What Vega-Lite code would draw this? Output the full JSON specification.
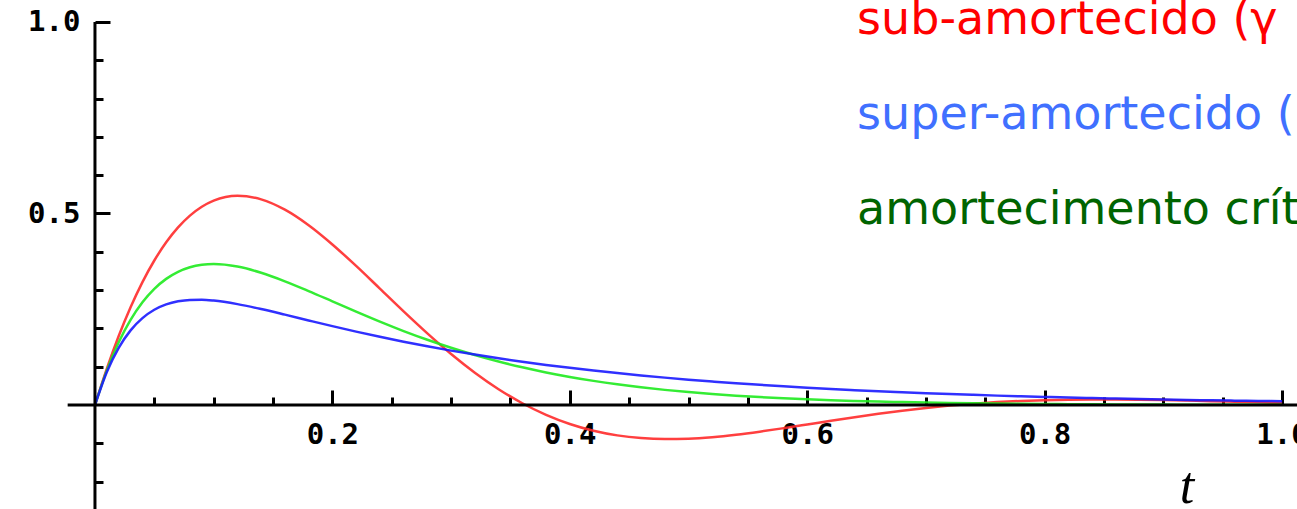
{
  "$schema": "https://vega.github.io/schema/vega-lite/v6.json",
  "width": 1297,
  "height": 509,
  "autosize": "none",
  "padding": 0,
  "background": "white",
  "config": {"view": {"stroke": null}},
  "datasets": {
    "curves": [
      {"t":0,"s":"sub","v":0},{"t":0.01,"s":"sub","v":0.0950},{"t":0.02,"s":"sub","v":0.1801},{"t":0.03,"s":"sub","v":0.2553},{"t":0.04,"s":"sub","v":0.3210},{"t":0.05,"s":"sub","v":0.3773},{"t":0.06,"s":"sub","v":0.4247},{"t":0.07,"s":"sub","v":0.4636},{"t":0.08,"s":"sub","v":0.4943},{"t":0.09,"s":"sub","v":0.5175},{"t":0.10,"s":"sub","v":0.5335},{"t":0.12,"s":"sub","v":0.5462},{"t":0.14,"s":"sub","v":0.5370},{"t":0.16,"s":"sub","v":0.5100},{"t":0.18,"s":"sub","v":0.4694},{"t":0.20,"s":"sub","v":0.4192},{"t":0.22,"s":"sub","v":0.3631},{"t":0.24,"s":"sub","v":0.3039},{"t":0.26,"s":"sub","v":0.2445},{"t":0.28,"s":"sub","v":0.1871},{"t":0.30,"s":"sub","v":0.1333},{"t":0.32,"s":"sub","v":0.0844},{"t":0.34,"s":"sub","v":0.0413},{"t":0.36,"s":"sub","v":0.0046},{"t":0.38,"s":"sub","v":-0.0257},{"t":0.40,"s":"sub","v":-0.0495},{"t":0.42,"s":"sub","v":-0.0672},{"t":0.44,"s":"sub","v":-0.0793},{"t":0.46,"s":"sub","v":-0.0864},{"t":0.48,"s":"sub","v":-0.0890},{"t":0.50,"s":"sub","v":-0.0879},{"t":0.52,"s":"sub","v":-0.0839},{"t":0.54,"s":"sub","v":-0.0776},{"t":0.56,"s":"sub","v":-0.0696},{"t":0.58,"s":"sub","v":-0.0605},{"t":0.60,"s":"sub","v":-0.0509},{"t":0.62,"s":"sub","v":-0.0412},{"t":0.64,"s":"sub","v":-0.0318},{"t":0.66,"s":"sub","v":-0.0229},{"t":0.68,"s":"sub","v":-0.0148},{"t":0.70,"s":"sub","v":-0.0077},{"t":0.72,"s":"sub","v":-0.0015},{"t":0.74,"s":"sub","v":0.0036},{"t":0.76,"s":"sub","v":0.0076},{"t":0.78,"s":"sub","v":0.0106},{"t":0.80,"s":"sub","v":0.0127},{"t":0.82,"s":"sub","v":0.0140},{"t":0.84,"s":"sub","v":0.0145},{"t":0.86,"s":"sub","v":0.0144},{"t":0.88,"s":"sub","v":0.0138},{"t":0.90,"s":"sub","v":0.0128},{"t":0.92,"s":"sub","v":0.0115},{"t":0.94,"s":"sub","v":0.0101},{"t":0.96,"s":"sub","v":0.0085},{"t":0.98,"s":"sub","v":0.0069},{"t":1.00,"s":"sub","v":0.0054},
      {"t":0,"s":"crit","v":0},{"t":0.01,"s":"crit","v":0.0905},{"t":0.02,"s":"crit","v":0.1638},{"t":0.03,"s":"crit","v":0.2222},{"t":0.04,"s":"crit","v":0.2681},{"t":0.05,"s":"crit","v":0.3033},{"t":0.06,"s":"crit","v":0.3293},{"t":0.07,"s":"crit","v":0.3476},{"t":0.08,"s":"crit","v":0.3595},{"t":0.09,"s":"crit","v":0.3659},{"t":0.10,"s":"crit","v":0.3679},{"t":0.12,"s":"crit","v":0.3614},{"t":0.14,"s":"crit","v":0.3452},{"t":0.16,"s":"crit","v":0.3230},{"t":0.18,"s":"crit","v":0.2975},{"t":0.20,"s":"crit","v":0.2707},{"t":0.22,"s":"crit","v":0.2438},{"t":0.24,"s":"crit","v":0.2177},{"t":0.26,"s":"crit","v":0.1931},{"t":0.28,"s":"crit","v":0.1703},{"t":0.30,"s":"crit","v":0.1494},{"t":0.32,"s":"crit","v":0.1304},{"t":0.34,"s":"crit","v":0.1135},{"t":0.36,"s":"crit","v":0.0984},{"t":0.38,"s":"crit","v":0.0850},{"t":0.40,"s":"crit","v":0.0733},{"t":0.42,"s":"crit","v":0.0630},{"t":0.44,"s":"crit","v":0.0540},{"t":0.46,"s":"crit","v":0.0462},{"t":0.48,"s":"crit","v":0.0395},{"t":0.50,"s":"crit","v":0.0337},{"t":0.52,"s":"crit","v":0.0287},{"t":0.54,"s":"crit","v":0.0244},{"t":0.56,"s":"crit","v":0.0207},{"t":0.58,"s":"crit","v":0.0176},{"t":0.60,"s":"crit","v":0.0149},{"t":0.62,"s":"crit","v":0.0126},{"t":0.64,"s":"crit","v":0.0106},{"t":0.66,"s":"crit","v":0.0090},{"t":0.68,"s":"crit","v":0.0076},{"t":0.70,"s":"crit","v":0.0064},{"t":0.72,"s":"crit","v":0.0054},{"t":0.74,"s":"crit","v":0.0045},{"t":0.76,"s":"crit","v":0.0038},{"t":0.78,"s":"crit","v":0.0032},{"t":0.80,"s":"crit","v":0.0027},{"t":0.82,"s":"crit","v":0.0023},{"t":0.84,"s":"crit","v":0.0019},{"t":0.86,"s":"crit","v":0.0016},{"t":0.88,"s":"crit","v":0.0013},{"t":0.90,"s":"crit","v":0.0011},{"t":0.92,"s":"crit","v":0.0009},{"t":0.94,"s":"crit","v":0.0008},{"t":0.96,"s":"crit","v":0.0007},{"t":0.98,"s":"crit","v":0.0005},{"t":1.00,"s":"crit","v":0.0005},
      {"t":0,"s":"super","v":0},{"t":0.01,"s":"super","v":0.0863},{"t":0.02,"s":"super","v":0.1494},{"t":0.03,"s":"super","v":0.1949},{"t":0.04,"s":"super","v":0.2269},{"t":0.05,"s":"super","v":0.2487},{"t":0.06,"s":"super","v":0.2626},{"t":0.07,"s":"super","v":0.2707},{"t":0.08,"s":"super","v":0.2744},{"t":0.09,"s":"super","v":0.2747},{"t":0.10,"s":"super","v":0.2726},{"t":0.12,"s":"super","v":0.2634},{"t":0.14,"s":"super","v":0.2505},{"t":0.16,"s":"super","v":0.2359},{"t":0.18,"s":"super","v":0.2208},{"t":0.20,"s":"super","v":0.2059},{"t":0.22,"s":"super","v":0.1916},{"t":0.24,"s":"super","v":0.1780},{"t":0.26,"s":"super","v":0.1651},{"t":0.28,"s":"super","v":0.1532},{"t":0.30,"s":"super","v":0.1420},{"t":0.32,"s":"super","v":0.1316},{"t":0.34,"s":"super","v":0.1220},{"t":0.36,"s":"super","v":0.1130},{"t":0.38,"s":"super","v":0.1047},{"t":0.40,"s":"super","v":0.0970},{"t":0.42,"s":"super","v":0.0899},{"t":0.44,"s":"super","v":0.0833},{"t":0.46,"s":"super","v":0.0772},{"t":0.48,"s":"super","v":0.0715},{"t":0.50,"s":"super","v":0.0662},{"t":0.52,"s":"super","v":0.0614},{"t":0.54,"s":"super","v":0.0568},{"t":0.56,"s":"super","v":0.0527},{"t":0.58,"s":"super","v":0.0488},{"t":0.60,"s":"super","v":0.0452},{"t":0.62,"s":"super","v":0.0419},{"t":0.64,"s":"super","v":0.0388},{"t":0.66,"s":"super","v":0.0359},{"t":0.68,"s":"super","v":0.0333},{"t":0.70,"s":"super","v":0.0309},{"t":0.72,"s":"super","v":0.0286},{"t":0.74,"s":"super","v":0.0265},{"t":0.76,"s":"super","v":0.0245},{"t":0.78,"s":"super","v":0.0227},{"t":0.80,"s":"super","v":0.0211},{"t":0.82,"s":"super","v":0.0195},{"t":0.84,"s":"super","v":0.0181},{"t":0.86,"s":"super","v":0.0167},{"t":0.88,"s":"super","v":0.0155},{"t":0.90,"s":"super","v":0.0144},{"t":0.92,"s":"super","v":0.0133},{"t":0.94,"s":"super","v":0.0123},{"t":0.96,"s":"super","v":0.0114},{"t":0.98,"s":"super","v":0.0106},{"t":1.00,"s":"super","v":0.0098}
    ],
    "axislines": [
      {"x":0,"x2":0,"y":-0.2715,"y2":1.0},
      {"x":-0.023,"x2":1.0126,"y":0,"y2":0}
    ],
    "labels": [
      {"x":0.642,"y":0.9687,"txt":"sub-amortecido (γ","s":"sub"},
      {"x":0.642,"y":0.7206,"txt":"super-amortecido (","s":"super"},
      {"x":0.642,"y":0.4726,"txt":"amortecimento crít","s":"crit"}
    ],
    "title": [
      {"x":0.92,"y":-0.2560,"txt":"t"}
    ]
  },
  "resolve": {"scale": {"color": "independent"}},
  "layer": [
    {
      "data": {"name": "curves"},
      "mark": {"type": "line", "interpolate": "monotone", "strokeWidth": 2.5, "opacity": 0.9},
      "encoding": {
        "x": {
          "field": "t", "type": "quantitative", "title": null,
          "scale": {"domain": [-0.08, 1.0126], "nice": false, "zero": false},
          "axis": {
            "orient": "bottom", "offset": -104, "domain": false, "grid": false, "title": null,
            "values": [0.05, 0.1, 0.15, 0.2, 0.25, 0.3, 0.35, 0.4, 0.45, 0.5, 0.55, 0.6, 0.65, 0.7, 0.75, 0.8, 0.85, 0.9, 0.95, 1.0],
            "tickSize": {"condition": {"test": "datum.value == 0.2 || datum.value == 0.4 || datum.value == 0.6 || datum.value == 0.8 || datum.value == 1", "value": -15}, "value": -8},
            "tickWidth": 3, "tickColor": "black",
            "labelExpr": "(datum.value == 0.2 || datum.value == 0.4 || datum.value == 0.6 || datum.value == 0.8 || datum.value == 1) ? format(datum.value, '.1f') : ''",
            "labelFont": "DejaVu Sans Mono", "labelFontSize": 29, "labelFontWeight": "bold", "labelColor": "black",
            "labelPadding": 30, "labelFlush": false, "labelOverlap": false, "labelBound": false, "labelBaseline": "top"
          }
        },
        "y": {
          "field": "v", "type": "quantitative", "title": null,
          "scale": {"domain": [-0.2715, 1.0574], "nice": false, "zero": false},
          "axis": {
            "orient": "left", "offset": -95, "domain": false, "grid": false, "title": null,
            "values": [-0.2, -0.1, 0.1, 0.2, 0.3, 0.4, 0.5, 0.6, 0.7, 0.8, 0.9, 1.0],
            "tickSize": {"condition": {"test": "datum.value == 0.5 || datum.value == 1", "value": -15}, "value": -8},
            "tickWidth": 3, "tickColor": "black",
            "labelExpr": "(datum.value == 0.5 || datum.value == 1) ? format(datum.value, '.1f') : ''",
            "labelFont": "DejaVu Sans Mono", "labelFontSize": 29, "labelFontWeight": "bold", "labelColor": "black",
            "labelPadding": 30, "labelFlush": false, "labelOverlap": false, "labelBound": false, "labelBaseline": "middle"
          }
        },
        "color": {
          "field": "s", "type": "nominal",
          "scale": {"domain": ["sub", "crit", "super"], "range": ["#ff2a2a", "#1eea1e", "#1a1aff"]},
          "legend": null
        }
      }
    },
    {
      "data": {"name": "axislines"},
      "mark": {"type": "rule", "color": "black", "strokeWidth": 3},
      "encoding": {
        "x": {"field": "x", "type": "quantitative", "title": null, "scale": {"domain": [-0.08, 1.0126], "nice": false, "zero": false}},
        "x2": {"field": "x2"},
        "y": {"field": "y", "type": "quantitative", "title": null, "scale": {"domain": [-0.2715, 1.0574], "nice": false, "zero": false}},
        "y2": {"field": "y2"}
      }
    },
    {
      "data": {"name": "labels"},
      "mark": {"type": "text", "align": "left", "baseline": "alphabetic", "font": "DejaVu Sans", "fontSize": 46},
      "encoding": {
        "x": {"field": "x", "type": "quantitative", "title": null, "scale": {"domain": [-0.08, 1.0126], "nice": false, "zero": false}},
        "y": {"field": "y", "type": "quantitative", "title": null, "scale": {"domain": [-0.2715, 1.0574], "nice": false, "zero": false}},
        "text": {"field": "txt"},
        "color": {
          "field": "s", "type": "nominal",
          "scale": {"domain": ["sub", "super", "crit"], "range": ["#ff0000", "#4070ff", "#006400"]},
          "legend": null
        }
      }
    },
    {
      "data": {"name": "title"},
      "mark": {"type": "text", "align": "center", "baseline": "alphabetic", "font": "Liberation Serif", "fontStyle": "italic", "fontSize": 52, "color": "black"},
      "encoding": {
        "x": {"field": "x", "type": "quantitative", "title": null, "scale": {"domain": [-0.08, 1.0126], "nice": false, "zero": false}},
        "y": {"field": "y", "type": "quantitative", "title": null, "scale": {"domain": [-0.2715, 1.0574], "nice": false, "zero": false}},
        "text": {"field": "txt"}
      }
    }
  ]
}
